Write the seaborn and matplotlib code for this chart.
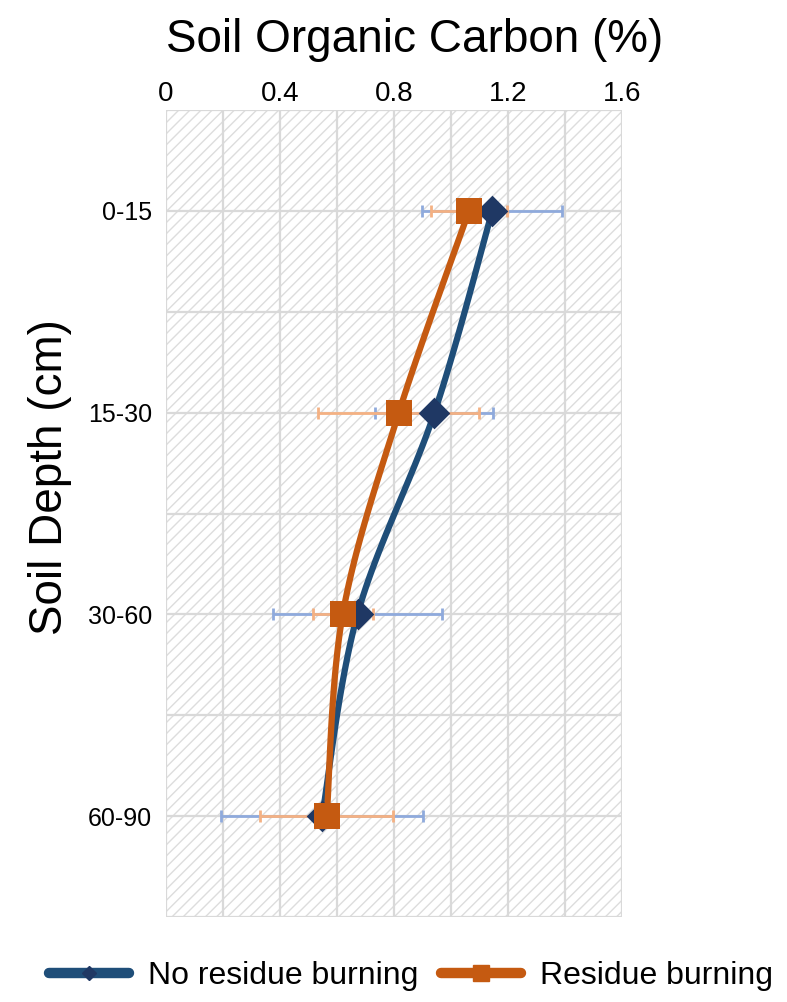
import numpy as np
import pandas as pd
import matplotlib
matplotlib.use("Agg")
import matplotlib.pyplot as plt
import seaborn as sns
from matplotlib.lines import Line2D
from matplotlib.patches import Rectangle
from matplotlib import font_manager

depths = ["0-15", "15-30", "30-60", "60-90"]
no_burn = [1.145, 0.942, 0.672, 0.548]
no_burn_err = [0.246, 0.207, 0.297, 0.355]
burn = [1.063, 0.817, 0.620, 0.564]
burn_err = [0.133, 0.283, 0.105, 0.233]
xticks = [0, 0.4, 0.8, 1.2, 1.6]

sns.set_theme(style="white")
names = {f.name for f in font_manager.fontManager.ttflist}
fam = [f for f in ["Liberation Sans Narrow", "Liberation Sans", "DejaVu Sans"] if f in names]
plt.rcParams["font.family"] = fam
plt.rcParams["text.color"] = "black"
plt.rcParams["hatch.linewidth"] = 1.0
plt.rcParams["hatch.color"] = "#dddddd"

def catmull(xv, yv, n=40):
    x = np.asarray(xv, float); y = np.asarray(yv, float)
    px = np.concatenate([[x[0]], x, [x[-1]]]); py = np.concatenate([[y[0]], y, [y[-1]]])
    ox, oy = [], []
    for i in range(1, len(px) - 2):
        t = np.linspace(0, 1, n)
        for arr, out in ((px, ox), (py, oy)):
            p0, p1, p2, p3 = arr[i-1], arr[i], arr[i+1], arr[i+2]
            c1 = p1 + (p2 - p0) / 6.0
            c2 = p2 - (p3 - p1) / 6.0
            out.extend((1-t)**3*p1 + 3*(1-t)**2*t*c1 + 3*(1-t)*t**2*c2 + t**3*p2)
    return np.array(ox), np.array(oy)

fig = plt.figure(figsize=(7.87, 10.02), dpi=100)
ax = fig.add_axes([166/787, 1-917/1002, 456/787, 807/1002])
ax.set_xlim(0, 1.6)
ax.set_ylim(3.5, -0.5)
ax.add_patch(Rectangle((0, 0), 1, 1, transform=ax.transAxes, facecolor="white",
                       edgecolor="#dddddd", hatch="///", lw=0, zorder=0))
for v in np.arange(0, 1.61, 0.2):
    ax.axvline(v, color="#d9d9d9", lw=1.6, zorder=1)
for v in np.arange(-0.5, 3.51, 0.5):
    ax.axhline(v, color="#d9d9d9", lw=1.6, zorder=1)

ypos = np.arange(len(depths))
blue_line, blue_mk, blue_err = "#1f4e79", "#1f3864", "#8faadc"
org_line, org_err = "#c55a11", "#f4b183"

ax.errorbar(no_burn, ypos, xerr=no_burn_err, fmt="none", ecolor=blue_err, elinewidth=2, capsize=4, capthick=2, zorder=2)
ax.errorbar(burn, ypos, xerr=burn_err, fmt="none", ecolor=org_err, elinewidth=2, capsize=4, capthick=2, zorder=2)

bx, by = catmull(no_burn, ypos)
ox_, oy_ = catmull(burn, ypos)
sns.lineplot(x=bx, y=by, sort=False, estimator=None, color=blue_line, lw=4.5, ax=ax, zorder=3)
sns.lineplot(x=ox_, y=oy_, sort=False, estimator=None, color=org_line, lw=4.5, ax=ax, zorder=4)
sns.scatterplot(x=no_burn, y=ypos, marker="D", s=260, color=blue_mk, edgecolor=blue_mk, linewidth=0, ax=ax, zorder=5)
sns.scatterplot(x=burn, y=ypos, marker="s", s=330, color=org_line, edgecolor=org_line, linewidth=0, ax=ax, zorder=6)

ax.xaxis.tick_top()
ax.set_xticks(xticks)
ax.set_xticklabels([f"{t:g}" for t in xticks], fontsize=20, color="black")
ax.set_yticks(ypos)
ax.set_yticklabels(depths, fontsize=18, color="black")
ax.tick_params(axis="x", length=0, pad=2)
ax.tick_params(axis="y", length=0, pad=10)
ax.set_xlabel(""); ax.set_ylabel("")
for s in ax.spines.values():
    s.set_visible(False)

fig.text(415/787, 1-40/1002, "Soil Organic Carbon (%)", fontsize=33, ha="center", va="center", color="black")
fig.text(50/787, 1-477/1002, "Soil Depth (cm)", fontsize=33, ha="center", va="center", rotation=90, color="black")

handles = [Line2D([], [], color=blue_line, lw=7.5, marker="D", markersize=7, markerfacecolor=blue_mk, markeredgecolor=blue_mk, solid_capstyle="round"),
           Line2D([], [], color=org_line, lw=7.5, marker="s", markersize=11, markerfacecolor=org_line, markeredgecolor=org_line, solid_capstyle="round")]
fig.legend(handles, ["No residue burning", "Residue burning"], loc="center", bbox_to_anchor=(411/787, 1-976/1002),
           ncol=2, frameon=False, fontsize=23, handlelength=2.5, columnspacing=0.7, handletextpad=0.6,
           borderpad=0, borderaxespad=0)

fig.savefig("out.png", dpi=100)
